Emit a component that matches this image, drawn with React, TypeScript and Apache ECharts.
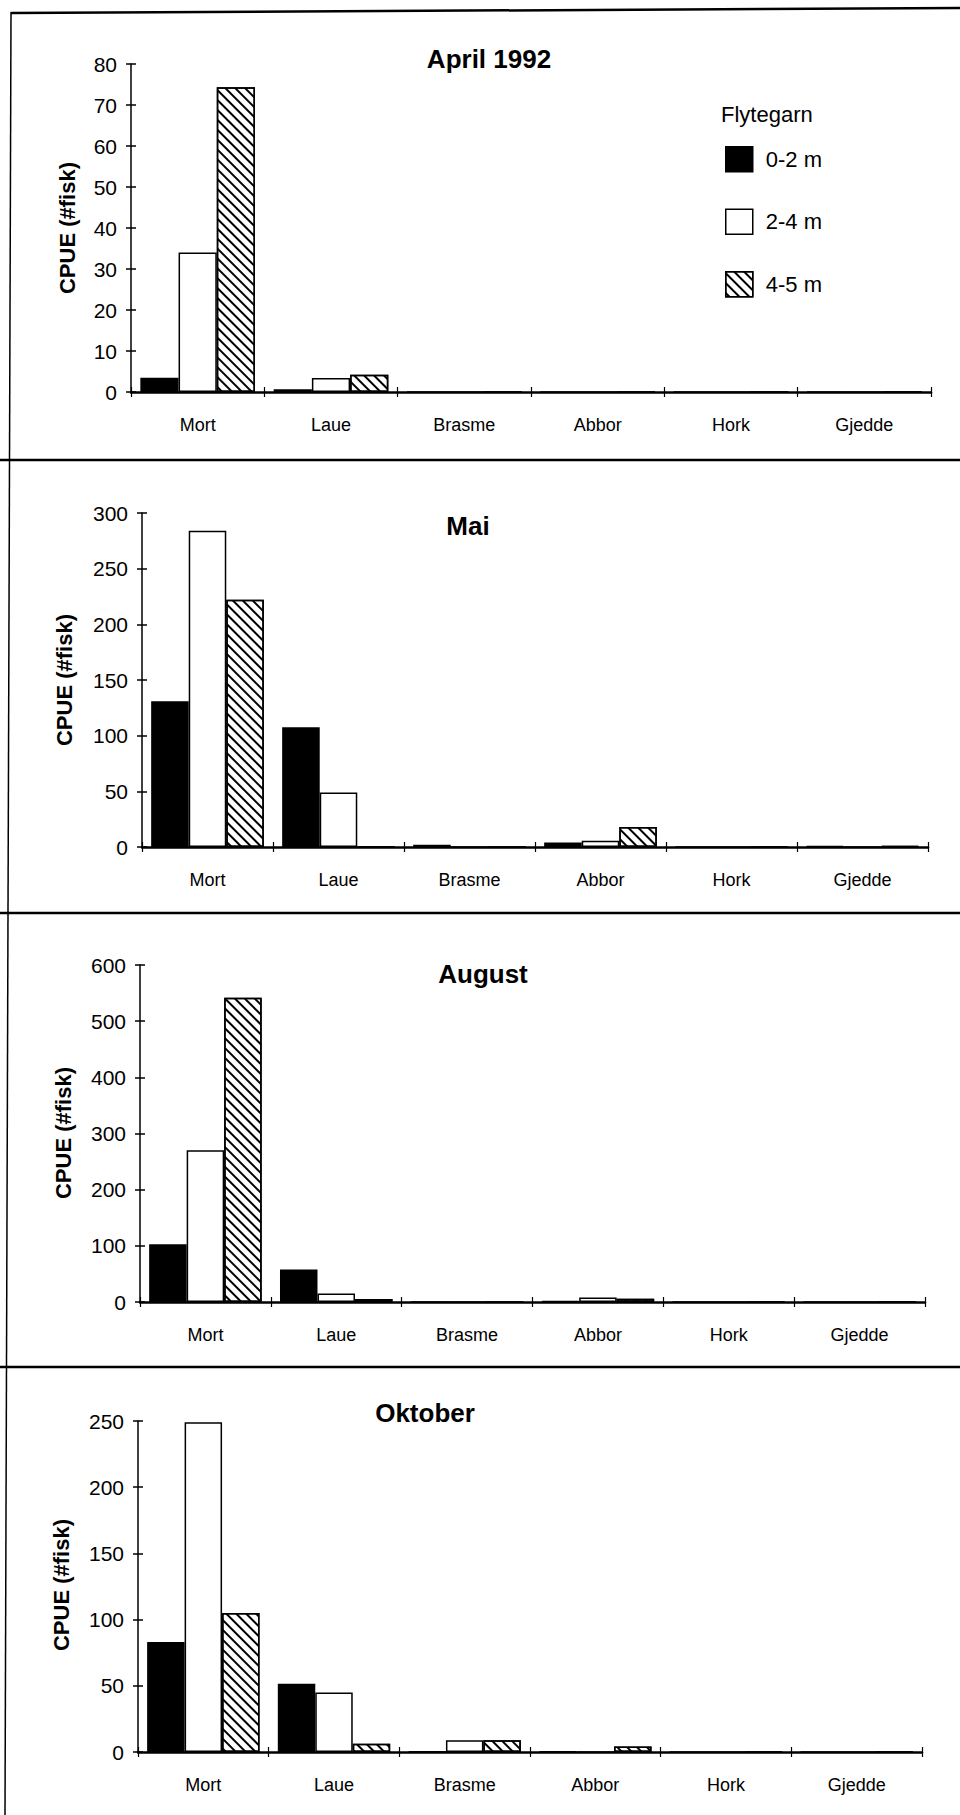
import React, { useEffect, useRef } from "react";
import * as echarts from "echarts";

const CATEGORIES = ["Mort", "Laue", "Brasme", "Abbor", "Hork", "Gjedde"];
const DEPTHS = ["0-2 m", "2-4 m", "4-5 m"];
const MONTHS = ["April 1992", "Mai", "August", "Oktober"];
const Y_NAME = "CPUE (#fisk)";
const LEGEND_TITLE = "Flytegarn";

// April 1992
const APRIL_0_2 = [3.5, 0.7, 0, 0, 0, 0];
const APRIL_2_4 = [34, 3.4, 0, 0, 0, 0];
const APRIL_4_5 = [74.3, 4.2, 0, 0, 0, 0];
// Mai
const MAI_0_2 = [131, 107.6, 2, 4, 0, 0.8];
const MAI_2_4 = [284, 49, 0, 5.6, 0, 0];
const MAI_4_5 = [222, 0.5, 0, 18, 0, 0.8];
// August
const AUG_0_2 = [102.8, 58, 0, 1.5, 0, 0];
const AUG_2_4 = [270, 15, 0, 7.8, 0, 0];
const AUG_4_5 = [541.7, 5.3, 0, 5.9, 0, 0];
// Oktober
const OKT_0_2 = [83, 51.5, 0.3, 0.5, 0, 0];
const OKT_2_4 = [249, 45, 8.8, 0, 0, 0];
const OKT_4_5 = [104.9, 6.3, 8.8, 4.2, 0, 0];

const PANEL_VALUES = [
  [APRIL_0_2, APRIL_2_4, APRIL_4_5],
  [MAI_0_2, MAI_2_4, MAI_4_5],
  [AUG_0_2, AUG_2_4, AUG_4_5],
  [OKT_0_2, OKT_2_4, OKT_4_5],
];
const Y_MAX = [80, 300, 600, 250];
const Y_INTERVAL = [10, 50, 100, 50];

// layout (pixels)
const GRIDS = [
  { left: 131, top: 64, width: 800, height: 328 },
  { left: 142, top: 513, width: 786, height: 334 },
  { left: 140, top: 965, width: 785, height: 337 },
  { left: 138, top: 1421, width: 784, height: 331 },
];
const TITLE_POS = [
  [489, 59],
  [468, 526],
  [483, 974],
  [425, 1413],
];
const YNAME_POS = [
  [67, 228],
  [64, 680],
  [63, 1133],
  [61, 1585],
];
const SEPARATORS = [460, 913, 1367];

const FONT = "'Liberation Sans', Arial, Helvetica, sans-serif";

export default function App() {
  const ref = useRef<HTMLDivElement>(null);

  useEffect(() => {
    if (!ref.current) return;
    const chart = echarts.init(ref.current, null, { renderer: "svg" });

    const styles = [
      { color: "#000", borderColor: "#000", borderWidth: 1.5 },
      { color: "#fff", borderColor: "#000", borderWidth: 1.5 },
      {
        color: "#fff",
        borderColor: "#000",
        borderWidth: 1.5,
        decal: {
          symbol: "rect",
          symbolSize: 1,
          color: "#000",
          dashArrayX: [1, 0],
          dashArrayY: [1.6, 4.8],
          rotation: Math.PI / 4,
        },
      },
    ];

    const grid: any[] = [];
    const xAxis: any[] = [];
    const yAxis: any[] = [];
    const series: any[] = [];
    const graphic: any[] = [];

    GRIDS.forEach((g, i) => {
      grid.push({ ...g, containLabel: false });
      xAxis.push({
        type: "category",
        gridIndex: i,
        data: CATEGORIES,
        axisLine: { show: true, lineStyle: { color: "#000", width: 2.5 } },
        axisTick: { show: true, length: 5, lineStyle: { color: "#000", width: 1.2 } },
        axisLabel: { color: "#000", fontSize: 18, fontFamily: FONT, margin: 24 },
        splitLine: { show: false },
      });
      xAxis.push({
        type: "category",
        gridIndex: i,
        data: CATEGORIES,
        position: "bottom",
        axisLine: { show: false },
        axisTick: { show: true, inside: true, length: 5, lineStyle: { color: "#000", width: 1.2 } },
        axisLabel: { show: false },
        splitLine: { show: false },
      });
      yAxis.push({
        type: "value",
        gridIndex: i,
        min: 0,
        max: Y_MAX[i],
        interval: Y_INTERVAL[i],
        axisLine: { show: true, lineStyle: { color: "#000", width: 1.5 } },
        axisTick: { show: true, length: 5, lineStyle: { color: "#000", width: 1.5 } },
        axisLabel: { color: "#000", fontSize: 21, fontFamily: FONT, margin: 14 },
        splitLine: { show: false },
      });
      yAxis.push({
        type: "value",
        gridIndex: i,
        position: "left",
        min: 0,
        max: Y_MAX[i],
        interval: Y_INTERVAL[i],
        axisLine: { show: false },
        axisTick: { show: true, inside: true, length: 5, lineStyle: { color: "#000", width: 1.5 } },
        axisLabel: { show: false },
        splitLine: { show: false },
      });
      PANEL_VALUES[i].forEach((vals, d) => {
        series.push({
          type: "bar",
          name: DEPTHS[d],
          xAxisIndex: 2 * i,
          yAxisIndex: 2 * i,
          data: vals,
          barGap: "0%",
          barCategoryGap: "14%",
          itemStyle: styles[d],
          emphasis: { disabled: true },
        });
      });
      graphic.push({
        type: "text",
        x: TITLE_POS[i][0],
        y: TITLE_POS[i][1],
        style: {
          text: MONTHS[i],
          font: `bold 26px ${FONT}`,
          fill: "#000",
          textAlign: "center",
          textVerticalAlign: "middle",
        },
      });
      graphic.push({
        type: "text",
        x: YNAME_POS[i][0],
        y: YNAME_POS[i][1],
        rotation: Math.PI / 2,
        style: {
          text: Y_NAME,
          font: `bold 22px ${FONT}`,
          fill: "#000",
          textAlign: "center",
          textVerticalAlign: "middle",
        },
      });
    });

    graphic.push({
      type: "text",
      x: 721,
      y: 114,
      style: {
        text: LEGEND_TITLE,
        font: `22px ${FONT}`,
        fill: "#000",
        textAlign: "left",
        textVerticalAlign: "middle",
      },
    });
    // frame lines
    graphic.push({
      type: "line",
      shape: { x1: 11, y1: 13, x2: 960, y2: 8 },
      style: { stroke: "#000", lineWidth: 2.5 },
    });
    graphic.push({
      type: "line",
      shape: { x1: 11, y1: 12, x2: 5, y2: 1815 },
      style: { stroke: "#000", lineWidth: 1.5 },
    });
    SEPARATORS.forEach((y) => {
      graphic.push({
        type: "line",
        shape: { x1: 0, y1: y, x2: 960, y2: y },
        style: { stroke: "#000", lineWidth: 2.5 },
      });
    });

    chart.setOption({
      animation: false,
      backgroundColor: "#fff",
      grid,
      xAxis,
      yAxis,
      series,
      graphic,
      legend: {
        data: DEPTHS,
        orient: "vertical",
        left: 725,
        top: 146,
        padding: 0,
        itemWidth: 27,
        itemHeight: 25,
        itemGap: 36,
        icon: "rect",
        selectedMode: false,
        itemStyle: { borderColor: "#000", borderWidth: 1.5 },
        textStyle: { color: "#000", fontSize: 22, fontFamily: FONT, padding: [0, 0, 0, 8] },
      },
    });

    return () => {
      chart.dispose();
    };
  }, []);

  return (
    <div
      ref={ref}
      style={{ position: "absolute", left: 0, top: 0, width: 960, height: 1815 }}
    />
  );
}
